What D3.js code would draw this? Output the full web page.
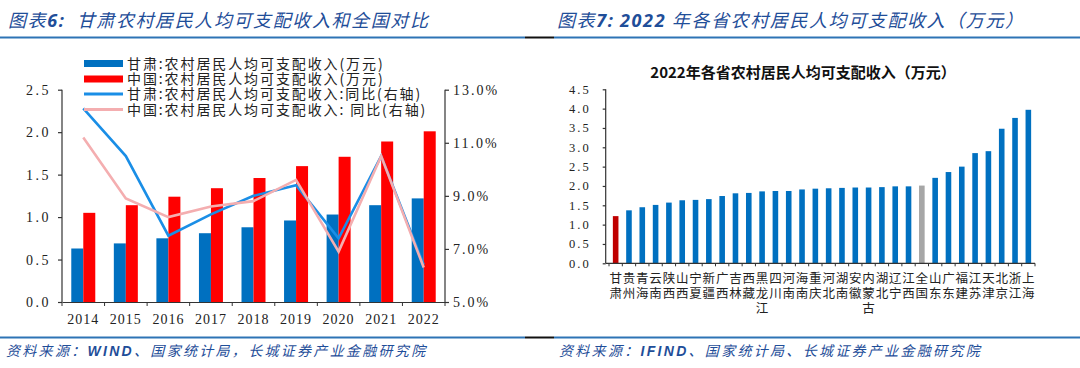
<!DOCTYPE html>
<html><head><meta charset="utf-8">
<script src="https://cdn.jsdelivr.net/npm/d3@7"></script>
<style>
html,body{margin:0;padding:0;background:#fff;}
svg{display:block;}
</style></head>
<body>
<svg id="c" width="1080" height="368"></svg>
<script>
// ---------- DATA ----------
const years = ["2014","2015","2016","2017","2018","2019","2020","2021","2022"];
const gansuIncome = [0.63,0.69,0.75,0.81,0.88,0.96,1.03,1.14,1.22];
const chinaIncome = [1.05,1.14,1.24,1.34,1.46,1.60,1.71,1.89,2.01];
const gansuGrowth = [12.3,10.5,7.5,8.3,9.0,9.4,7.4,10.5,6.4];
const chinaGrowth = [11.2,8.9,8.2,8.6,8.8,9.6,6.9,10.5,6.3];
const leftTicks = [0,0.5,1.0,1.5,2.0,2.5];
const rightTicks = [5,7,9,11,13];
const legendLabels = ["甘肃:农村居民人均可支配收入(万元)","中国:农村居民人均可支配收入(万元)","甘肃:农村居民人均可支配收入:同比(右轴)","中国:农村居民人均可支配收入: 同比(右轴)"];

const provinces = ["甘肃","贵州","青海","云南","陕西","山西","宁夏","新疆","广西","吉林","西藏","黑龙江","四川","河南","海南","重庆","河北","湖南","安徽","内蒙古","湖北","辽宁","江西","全国","山东","广东","福建","江苏","天津","北京","浙江","上海"];
const provIncome = [1.22,1.37,1.45,1.51,1.57,1.63,1.64,1.66,1.74,1.81,1.82,1.86,1.87,1.87,1.91,1.93,1.94,1.95,1.96,1.96,1.97,1.99,1.99,2.01,2.21,2.36,2.50,2.85,2.90,3.48,3.76,3.97];
const provTicks = [0,0.5,1.0,1.5,2.0,2.5,3.0,3.5,4.0,4.5];

const title6 = ["图表","6:","  甘肃农村居民人均可支配收入和全国对比"];
const title7 = ["图表","7:"," ","2022"," 年各省农村居民人均可支配收入（万元）"];
const chart7Title = "2022年各省农村居民人均可支配收入（万元）";
const source6 = ["资料来源：","WIND","、国家统计局，长城证券产业金融研究院"];
const source7 = ["资料来源：","IFIND","、国家统计局、长城证券产业金融研究院"];

// ---------- STYLE ----------
const CJK = "'Noto Sans CJK SC','Noto Sans',sans-serif";
const SERIF = "'Liberation Serif','DejaVu Serif',serif";
const titleBlue = "#1f4e99";
const ruleBlue = "#2e74b5";

const svg = d3.select("#c");

// ---------- HEADERS / FOOTERS ----------
function header(x, y, parts, boldIdx){
  const t = svg.append("text").attr("x",x).attr("y",y)
    .attr("font-family",CJK).attr("font-size",18).attr("font-style","italic")
    .attr("fill",titleBlue).attr("letter-spacing",1.6).style("white-space","pre");
  parts.forEach((p,i)=>{
    const s = t.append("tspan").text(p);
    if(boldIdx.includes(i)) s.attr("font-weight","bold").attr("font-family","'Open Sans','Liberation Sans',sans-serif");
  });
}
header(8,27,title6,[1]);
header(557,27,title7,[1,3]);

function rules(y){
  svg.append("line").attr("x1",0).attr("x2",525).attr("y1",y).attr("y2",y).attr("stroke",ruleBlue).attr("stroke-width",2);
  svg.append("line").attr("x1",525).attr("x2",554).attr("y1",y).attr("y2",y).attr("stroke","#111").attr("stroke-width",2);
  svg.append("line").attr("x1",554).attr("x2",1080).attr("y1",y).attr("y2",y).attr("stroke",ruleBlue).attr("stroke-width",2);
}
rules(37.5);
rules(337.5);

function source(x,y,parts){
  const t = svg.append("text").attr("x",x).attr("y",y)
    .attr("font-family",CJK).attr("font-size",14).attr("font-style","italic")
    .attr("fill",titleBlue).attr("letter-spacing",2.3);
  parts.forEach((p,i)=>{
    const s=t.append("tspan").text(p);
    if(i===1) s.attr("font-weight","bold").attr("font-family","'Liberation Sans',sans-serif");
  });
}
source(6,356,source6);
source(559,356,source7);

// ---------- LEFT CHART ----------
const L = {x0:62, x1:445, y0:302, y1:89.7};
const xL = d3.scaleBand().domain(years).range([L.x0,L.x1]).paddingInner(0).paddingOuter(0);
const yL = d3.scaleLinear().domain([0,2.5]).range([L.y0,L.y1]);
const yR = d3.scaleLinear().domain([5,13]).range([L.y0,L.y1]);
const barW = 12;
const gL = svg.append("g");

// bars
gL.selectAll(".bg").data(years).enter().append("rect")
  .attr("x",d=>xL(d)+xL.bandwidth()/2-barW)
  .attr("y",(d,i)=>yL(gansuIncome[i]))
  .attr("width",barW).attr("height",(d,i)=>yL(0)-yL(gansuIncome[i]))
  .attr("fill","#0070c0");
gL.selectAll(".bc").data(years).enter().append("rect")
  .attr("x",d=>xL(d)+xL.bandwidth()/2)
  .attr("y",(d,i)=>yL(chinaIncome[i]))
  .attr("width",barW).attr("height",(d,i)=>yL(0)-yL(chinaIncome[i]))
  .attr("fill","#ff0000");

// lines
const lineGen = arr => d3.line().x((d,i)=>xL(years[i])+xL.bandwidth()/2).y(d=>yR(d))(arr);
gL.append("path").attr("d",lineGen(gansuGrowth)).attr("fill","none").attr("stroke","#1a8ee6").attr("stroke-width",2.6);
gL.append("path").attr("d",lineGen(chinaGrowth)).attr("fill","none").attr("stroke","#f4aeb0").attr("stroke-width",2.6);

// axes
const axL = gL.append("g").attr("transform",`translate(${L.x0},0)`)
  .call(d3.axisLeft(yL).tickValues(leftTicks).tickFormat(d3.format(".1f")).tickSize(4).tickPadding(7));
const axR = gL.append("g").attr("transform",`translate(${L.x1},0)`)
  .call(d3.axisRight(yR).tickValues(rightTicks).tickFormat(d=>d.toFixed(1)+"%").tickSize(4).tickPadding(4));
const axX = gL.append("g").attr("transform",`translate(0,${L.y0})`)
  .call(d3.axisBottom(xL).tickSize(0).tickPadding(12));
// boundary ticks
gL.selectAll(".bt").data(d3.range(years.length+1)).enter().append("line")
  .attr("x1",i=>L.x0+i*xL.step()).attr("x2",i=>L.x0+i*xL.step())
  .attr("y1",L.y0).attr("y2",L.y0+4).attr("stroke","#333");
[axL,axR,axX].forEach(a=>{
  a.selectAll("path,line").attr("stroke","#333").attr("stroke-width",1.2);
  a.selectAll("text").attr("font-family",SERIF).attr("font-size",14).attr("fill","#222");
});
axL.selectAll("text").attr("letter-spacing",2.5);
axR.selectAll("text").attr("letter-spacing",2);
axX.selectAll("text").attr("letter-spacing",1);
axL.select(".domain").attr("d",`M-0,${L.y0}V${L.y1}`);
axR.select(".domain").attr("d",`M0,${L.y0}V${L.y1}`);

// legend
const legY = [63.5,79,94,109.5];
const leg = gL.selectAll(".lg").data(legendLabels).enter().append("g")
  .attr("transform",(d,i)=>`translate(84,${legY[i]})`);
leg.each(function(d,i){
  const g=d3.select(this);
  if(i<2){
    g.append("rect").attr("x",0).attr("y",-3.5).attr("width",39).attr("height",7).attr("fill",i===0?"#0070c0":"#ff0000");
  } else {
    g.append("line").attr("x1",0).attr("x2",39).attr("y1",0).attr("y2",0)
      .attr("stroke",i===2?"#1a8ee6":"#f4aeb0").attr("stroke-width",3);
  }
  g.append("text").attr("x",43).attr("y",5).text(d).style("white-space","pre")
    .attr("font-family",CJK).attr("font-size",14).attr("letter-spacing",1.9).attr("fill","#222");
});

// ---------- RIGHT CHART ----------
const R = {x0:609, x1:1035, y0:263.3, y1:89.3, ax:605.7};
const xP = d3.scaleBand().domain(provinces).range([R.x0,R.x1]).paddingInner(0.58).paddingOuter(0.29);
const yP = d3.scaleLinear().domain([0,4.5]).range([R.y0,R.y1]);
const gR = svg.append("g");

gR.append("text").attr("x",803).attr("y",78).attr("text-anchor","middle")
  .attr("font-family",CJK).attr("font-size",15).attr("font-weight","bold").attr("fill","#111")
  .text(chart7Title);

gR.selectAll(".pb").data(provinces).enter().append("rect")
  .attr("x",d=>xP(d)).attr("width",xP.bandwidth())
  .attr("y",(d,i)=>yP(provIncome[i])).attr("height",(d,i)=>yP(0)-yP(provIncome[i]))
  .attr("fill",d=>d==="甘肃"?"#c00000":(d==="全国"?"#a6a6a6":"#0070c0"));

const axP = gR.append("g").attr("transform",`translate(${R.ax},0)`)
  .call(d3.axisLeft(yP).tickValues(provTicks).tickFormat(d3.format(".1f")).tickSize(3).tickPadding(12));
axP.select(".domain").attr("d",`M0,${R.y0}V${R.y1}`);
axP.selectAll("path,line").attr("stroke","#333").attr("stroke-width",1.2);
axP.selectAll("text").attr("font-family",SERIF).attr("font-size",12.5).attr("fill","#222").attr("letter-spacing",2);

gR.append("line").attr("x1",R.ax).attr("x2",R.x1).attr("y1",R.y0).attr("y2",R.y0).attr("stroke","#333").attr("stroke-width",1.2);
gR.selectAll(".pt").data(d3.range(provinces.length+1)).enter().append("line")
  .attr("x1",i=>R.x0+i*xP.step()).attr("x2",i=>R.x0+i*xP.step())
  .attr("y1",R.y0).attr("y2",R.y0+3).attr("stroke","#333");

// vertical labels
gR.selectAll(".pl").data(provinces).enter().append("text")
  .attr("text-anchor","middle")
  .attr("font-family",CJK).attr("font-size",12.5).attr("fill","#222")
  .each(function(d){
    const t=d3.select(this);
    const cx = xP(d)+xP.bandwidth()/2;
    Array.from(d).forEach((ch,k)=>{
      t.append("tspan").attr("x",cx).attr("y",283+k*15).text(ch);
    });
  });
</script>
</body></html>
